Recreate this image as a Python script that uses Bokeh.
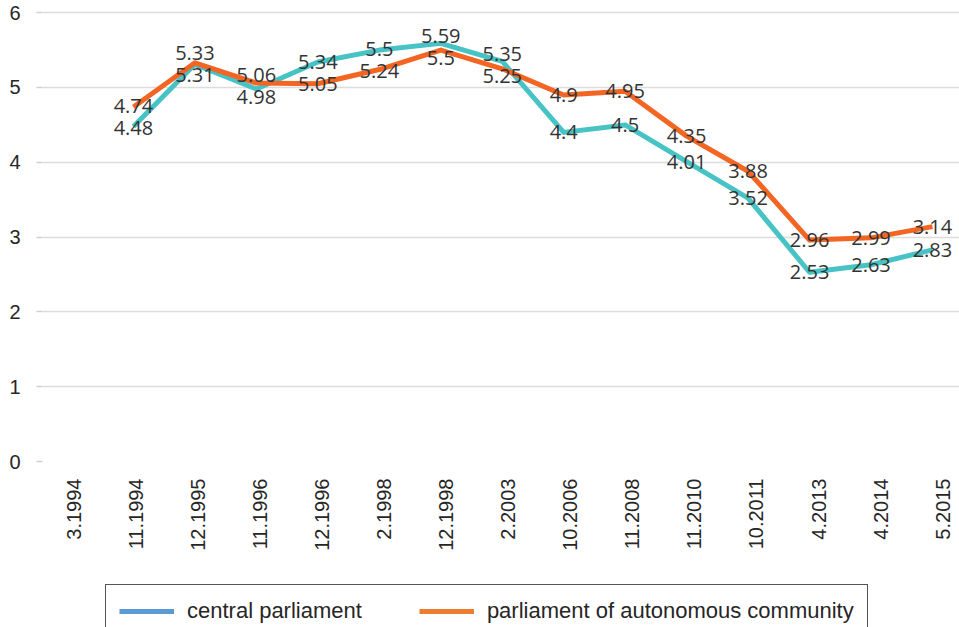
import math
import numpy as np
from bokeh.plotting import figure
from bokeh.layouts import column
from bokeh.models import (ColumnDataSource, FixedTicker, Legend, LegendItem, Range1d,
                          LinearAxis)
from bokeh.core.properties import value
from bokeh.embed import file_html
from bokeh.resources import INLINE

# Survey waves and mean scores for the two parliaments
periods = ["3.1994", "11.1994", "12.1995", "11.1996", "12.1996", "2.1998", "12.1998",
           "2.2003", "10.2006", "11.2008", "11.2010", "10.2011", "4.2013", "4.2014", "5.2015"]
central = [None, 4.48, 5.31, 4.98, 5.34, 5.5, 5.59, 5.35, 4.4, 4.5, 4.01, 3.52, 2.53, 2.63, 2.83]
autonomous = [None, 4.74, 5.33, 5.06, 5.05, 5.24, 5.5, 5.25, 4.9, 4.95, 4.35, 3.88, 2.96, 2.99, 3.14]
y_ticks = [0, 1, 2, 3, 4, 5, 6]
series_names = ["central parliament", "parliament of autonomous community"]

TEAL = "#47C3C6"
RED_ORANGE = "#F26522"
LEGEND_BLUE = "#5B9BD5"
LEGEND_ORANGE = "#ED7D31"

W = 959
CHART_H = 583
LEGEND_H = 44
FRAME_H = 461
Y_MAX = 6.163
px_per_unit = FRAME_H / Y_MAX

p = figure(width=W, height=CHART_H, output_backend="svg", toolbar_location=None,
           x_range=Range1d(-0.48, 14.44), y_range=Range1d(0, Y_MAX),
           x_axis_location=None,
           min_border_left=42, min_border_right=0, min_border_top=0,
           min_border_bottom=CHART_H - FRAME_H)
p.outline_line_color = None
p.background_fill_color = "white"
p.border_fill_color = "white"

# grid
p.xgrid.grid_line_color = None
p.ygrid.grid_line_color = "#dcdcdc"
p.ygrid.grid_line_width = 1.5
p.ygrid.ticker = FixedTicker(ticks=y_ticks)

# y axis
p.yaxis.ticker = FixedTicker(ticks=y_ticks)
p.yaxis.axis_line_color = None
p.yaxis.major_tick_line_color = "#d0d0d0"
p.yaxis.major_tick_line_width = 1.5
p.yaxis.major_tick_out = 6
p.yaxis.major_tick_in = 0
p.yaxis.minor_tick_line_color = None
p.yaxis.major_label_standoff = 16
p.yaxis.major_label_text_font = "Liberation Sans"
p.yaxis.major_label_text_font_size = "20px"
p.yaxis.major_label_text_color = "#262626"

# category axis on its own slightly wider scale
idx = list(range(len(periods)))
p.extra_x_ranges = {"waves": Range1d(-0.5, 14.27)}
xaxis = LinearAxis(x_range_name="waves", ticker=FixedTicker(ticks=idx),
                   major_label_overrides={i: s for i, s in enumerate(periods)},
                   major_label_orientation=math.pi / 2)
xaxis.axis_line_color = None
xaxis.major_tick_line_color = None
xaxis.minor_tick_line_color = None
xaxis.major_tick_out = 0
xaxis.major_tick_in = 0
xaxis.major_label_standoff = 17
xaxis.major_label_text_font = "Liberation Sans"
xaxis.major_label_text_font_size = "20px"
xaxis.major_label_text_color = "#262626"
p.add_layout(xaxis, "below")

def to_arr(vals):
    return np.array([np.nan if v is None else v for v in vals], dtype=float)

c_arr = to_arr(central)
a_arr = to_arr(autonomous)

p.line(idx, c_arr, line_color=TEAL, line_width=5, line_join="round")
p.line(idx, a_arr, line_color=RED_ORANGE, line_width=5, line_join="round")

# value labels: centred on the point, pushed apart where the two series are close
MIN_SEP = 22
lx, ly, lt, loff = [], [], [], []
for i in idx:
    c, a = central[i], autonomous[i]
    if c is None or a is None:
        continue
    gap = (a - c) * px_per_unit
    push = max(0.0, (MIN_SEP - abs(gap)) / 2)
    up_a = a >= c
    for v, is_a in ((c, False), (a, True)):
        upper = (is_a and up_a) or (not is_a and not up_a)
        lx.append(i)
        ly.append(v)
        lt.append(f"{v:g}")
        loff.append(-push if upper else push)

labels = ColumnDataSource(dict(x=lx, y=ly, text=lt, yoff=loff))
p.text(x="x", y="y", text="text", y_offset="yoff", source=labels,
       text_font=value("Open Sans"), text_font_size="20px", text_color="#333333",
       text_align="center", text_baseline="middle")

# legend strip underneath the chart (its frame lines up with the chart's frame)
leg = figure(width=W, height=LEGEND_H, output_backend="svg", toolbar_location=None,
             x_range=Range1d(0, 1), y_range=Range1d(0, 1),
             x_axis_location=None, y_axis_location=None, min_border=0)
leg.outline_line_color = None
leg.grid.visible = False
leg.background_fill_color = "white"
leg.border_fill_color = "white"
r_c = leg.line([np.nan], [np.nan], line_color=LEGEND_BLUE, line_width=5)
r_a = leg.line([np.nan], [np.nan], line_color=LEGEND_ORANGE, line_width=5)
legend = Legend(items=[LegendItem(label=series_names[0], renderers=[r_c]),
                       LegendItem(label=series_names[1], renderers=[r_a])],
                orientation="horizontal", location=(63, -11))
legend.label_text_font = "Liberation Sans"
legend.label_text_font_size = "22px"
legend.label_text_color = "#262626"
legend.glyph_width = 55
legend.glyph_height = 22
legend.label_standoff = 13
legend.spacing = 57
legend.padding = 13
legend.margin = 0
legend.border_line_color = "#555555"
legend.border_line_alpha = 1.0
legend.border_line_width = 1.5
legend.background_fill_alpha = 1
leg.add_layout(legend, "center")

layout = column(p, leg, spacing=0)
open("out.html", "w").write(file_html(layout, INLINE))
